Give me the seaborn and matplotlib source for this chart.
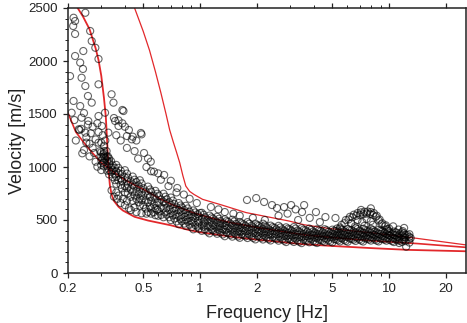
import numpy as np
import pandas as pd
import matplotlib
matplotlib.use("Agg")
import matplotlib.pyplot as plt
from matplotlib.ticker import FixedLocator, LogLocator, NullFormatter, FuncFormatter, MultipleLocator
import seaborn as sns

# ---- picked dispersion points (frequency in Hz, phase velocity in m/s) ----
grid_a = [0.30, 0.33, 0.36, 0.40, 0.44, 0.48, 0.53, 0.58, 0.64, 0.70, 0.77, 0.84, 0.92, 1.02,
          1.12, 1.23, 1.35, 1.48, 1.62, 1.78, 1.96, 2.15, 2.36, 2.60, 2.85, 3.13, 3.44, 3.78,
          4.15, 4.56, 5.01, 5.50, 6.04, 6.64, 7.29, 8.01, 8.80, 9.67, 10.6, 11.7, 12.8]
pick_1 = [1140, 1080, 1020, 970, 910, 875, 815, 775, 748, 712, 660, 634, 590, 568, 542, 530, 506,
          503, 481, 480, 466, 465, 447, 445, 431, 433, 422, 419, 412, 413, 409, 418, 415, 424, 417,
          416, 407, 405, 391, 383, 366]
pick_3 = [1095, 1030, 960, 900, 835, 795, 735, 698, 672, 640, 594, 570, 532, 512, 486, 476, 452,
          449, 431, 430, 417, 416, 400, 398, 385, 386, 375, 376, 368, 373, 369, 378, 375, 383, 377,
          379, 370, 371, 358, 353, 340]
pick_5 = [1062, 970, 910, 820, 766, 706, 664, 612, 608, 561, 535, 500, 478, 449, 437, 418, 407,
          391, 388, 374, 372, 360, 360, 346, 345, 334, 335, 328, 331, 327, 335, 332, 340, 337, 343,
          338, 339, 333, 331, 317, 319]
pick_7 = [1018, 930, 840, 760, 680, 634, 576, 545, 526, 499, 461, 444, 412, 398, 374, 370, 347,
          343, 332, 330, 317, 316, 307, 305, 292, 293, 282, 290, 283, 293, 289, 298, 295, 303, 297,
          306, 298, 305, 292, 293, 287]

grid_b = [0.31, 0.345, 0.38, 0.415, 0.46, 0.50, 0.55, 0.605, 0.665, 0.73, 0.80, 0.88, 0.97, 1.06,
          1.17, 1.28, 1.41, 1.55, 1.70, 1.87, 2.05, 2.25, 2.48, 2.72, 2.99, 3.28, 3.61, 3.96, 4.35,
          4.78, 5.25, 5.77, 6.33, 6.96, 7.64, 8.40, 9.22, 10.1, 11.1, 12.2]
pick_2 = [1100, 1015, 965, 900, 858, 800, 768, 730, 695, 650, 619, 578, 554, 525, 513, 489, 482,
          464, 459, 445, 444, 429, 426, 412, 411, 401, 402, 392, 394, 388, 396, 393, 402, 397, 400,
          390, 391, 379, 375, 357]
pick_4 = [1048, 968, 890, 834, 772, 728, 682, 663, 617, 588, 547, 523, 489, 474, 452, 441, 422,
          418, 403, 401, 388, 387, 373, 371, 359, 360, 350, 354, 347, 354, 350, 359, 356, 363, 356,
          359, 350, 351, 337, 334]
pick_6 = [1006, 905, 832, 752, 699, 641, 609, 581, 551, 514, 487, 455, 436, 411, 403, 381, 374,
          360, 359, 345, 344, 333, 332, 318, 318, 307, 310, 304, 311, 308, 316, 313, 322, 317, 323,
          316, 321, 311, 310, 301]

grid_c = [0.307, 0.338, 0.369, 0.41, 0.45, 0.49, 0.543, 0.594, 0.655, 0.717, 0.788, 0.86, 0.942,
          1.045, 1.147, 1.26, 1.38, 1.515, 1.66, 1.82, 2.01, 2.2, 2.42, 2.66, 2.92, 3.2, 3.52,
          3.87, 4.25, 4.67, 5.13, 5.63, 6.18, 6.8, 7.46, 8.2, 9.01, 9.9, 10.85, 11.98]
pick_8 = [1120, 1055, 992, 938, 880, 845, 788, 748, 720, 683, 637, 609, 571, 549, 525, 512, 490,
          486, 468, 465, 452, 449, 433, 430, 418, 419, 408, 407, 401, 403, 399, 408, 405, 414, 407,
          406, 398, 397, 384, 374]
pick_9 = [1085, 998, 942, 864, 815, 758, 716, 664, 654, 608, 580, 542, 519, 487, 476, 455, 444,
          428, 424, 410, 409, 396, 393, 379, 378, 367, 368, 359, 364, 357, 365, 362, 371, 367, 373,
          364, 367, 358, 357, 340]
pick_10 = [1040, 955, 874, 800, 731, 686, 628, 595, 572, 544, 507, 485, 452, 437, 413, 407, 384,
           381, 367, 365, 352, 351, 340, 338, 325, 326, 315, 321, 314, 323, 319, 328, 325, 333, 327,
           333, 324, 330, 317, 314]

grid_d = [0.322, 0.354, 0.386, 0.429, 0.472, 0.515, 0.568, 0.622, 0.686, 0.75, 0.825, 0.9, 0.986,
          1.093, 1.2, 1.318, 1.447, 1.587, 1.737, 1.908, 2.1, 2.305, 2.53, 2.787, 3.055, 3.355,
          3.688, 4.052, 4.449, 4.888, 5.371, 5.896, 6.475, 7.118, 7.815, 8.587, 9.434, 10.37, 11.36]
pick_11 = [1060, 990, 933, 866, 826, 768, 728, 694, 667, 619, 594, 553, 533, 504, 495, 470, 466,
           446, 445, 431, 431, 413, 412, 398, 399, 387, 389, 379, 383, 377, 387, 383, 393, 386, 389,
           380, 381, 368, 364]
pick_12 = [1012, 931, 866, 792, 746, 688, 650, 621, 596, 553, 530, 493, 474, 449, 440, 416, 411,
           395, 394, 380, 380, 366, 365, 351, 352, 340, 345, 335, 343, 337, 347, 343, 353, 346, 351,
           343, 347, 334, 333]
pick_13 = [965, 876, 799, 718, 667, 608, 574, 548, 526, 486, 466, 432, 419, 391, 388, 364, 360,
           345, 346, 331, 332, 319, 320, 305, 307, 294, 302, 292, 303, 297, 308, 303, 314, 306, 316,
           306, 315, 301, 304]

# higher-velocity arrivals between 5 and 10 Hz
bump_f = [5.3, 5.6, 5.9, 6.2, 6.5, 6.8, 7.1, 7.4, 7.7, 8.0, 8.3, 8.6, 8.9, 9.2, 9.5, 9.8,
          5.5, 5.8, 6.1, 6.4, 6.7, 7.0, 7.3, 7.6, 7.9, 8.2, 8.5, 8.8, 9.1,
          6.3, 6.8, 7.2, 7.6, 8.0, 6.6, 7.4, 8.2, 8.0, 7.1, 9.6, 10.5, 10.0, 11.2]
bump_v = [420, 455, 500, 530, 550, 565, 572, 578, 580, 575, 565, 540, 505, 470, 440, 415,
          430, 470, 505, 525, 540, 548, 555, 560, 558, 548, 530, 495, 460,
          470, 500, 480, 510, 490, 440, 445, 455, 610, 595, 450, 440, 420, 410]

# scattered picks above the fundamental mode, 1-5 Hz
mid_f = [0.96, 1.0, 1.14, 1.25, 1.35, 1.5, 1.62, 1.77, 1.98, 2.18, 2.40, 2.55, 2.78, 3.03, 3.2,
         3.46, 3.55, 3.8, 4.1, 4.3, 4.6, 5.2, 2.6, 2.9, 3.3, 1.9, 2.2]
mid_v = [660, 566, 622, 600, 575, 560, 540, 689, 707, 670, 641, 613, 622, 641, 600, 575, 641,
         520, 575, 480, 528, 519, 540, 560, 500, 520, 500]

# low-frequency scatter, 0.2-0.5 Hz
low_f = [0.247, 0.214, 0.218, 0.213, 0.218, 0.262, 0.267, 0.279, 0.241, 0.218, 0.232, 0.29,
         0.205, 0.24, 0.236, 0.247, 0.29, 0.255, 0.34, 0.214, 0.232, 0.267, 0.314, 0.348, 0.393,
         0.209, 0.236, 0.256, 0.29, 0.228, 0.247, 0.302, 0.355, 0.37, 0.41, 0.435, 0.49, 0.29,
         0.327, 0.216, 0.243, 0.23, 0.264, 0.286, 0.243, 0.275, 0.286, 0.30, 0.238, 0.22, 0.25,
         0.26, 0.27, 0.28, 0.295, 0.31, 0.32, 0.305, 0.315, 0.27, 0.255, 0.26, 0.28, 0.29, 0.30,
         0.31, 0.235, 0.25, 0.31, 0.32, 0.315, 0.325, 0.33]
low_v = [2455, 2408, 2377, 2330, 2255, 2283, 2188, 2125, 2094, 2047, 1985, 2019, 1858, 1925,
         1842, 1764, 1780, 1670, 1686, 1623, 1575, 1607, 1512, 1607, 1528, 1512, 1465, 1434, 1481,
         1356, 1324, 1387, 1434, 1387, 1292, 1261, 1308, 1229, 1324, 1443, 1509, 1349, 1318, 1412,
         1160, 1132, 1003, 971, 1129, 1250, 1280, 1220, 1180, 1260, 1150, 1200, 1100, 1300, 1250,
         1380, 1400, 1100, 1050, 1330, 1230, 1150, 1360, 1230, 1130, 1150, 1080, 1100, 1050]

# second-branch picks 0.35-1 Hz
branch_f = [0.35, 0.37, 0.388, 0.40, 0.42, 0.44, 0.46, 0.486, 0.388, 0.505, 0.53, 0.548, 0.57,
            0.60, 0.645, 0.70, 0.757, 0.82, 0.88, 0.36, 0.38, 0.45, 0.52, 0.62, 0.68, 0.75, 0.55,
            0.47, 0.41]
branch_v = [1462, 1440, 1412, 1380, 1349, 1286, 1250, 1321, 1538, 1132, 1080, 1050, 956, 940,
            925, 870, 802, 740, 700, 1300, 1250, 1150, 1000, 880, 820, 760, 960, 1080, 1180]

# picks below the main band
under_f = [0.34, 0.35, 0.365, 0.38, 0.40, 0.42, 0.43, 0.46, 0.49, 0.52, 0.36, 0.39, 0.45, 0.55,
           0.60, 0.37, 0.41, 12.0, 12.3, 11.3, 12.5, 13.0, 11.8]
under_v = [780, 720, 700, 660, 640, 610, 594, 575, 563, 560, 760, 700, 620, 560, 540, 730, 680,
           425, 248, 283, 358, 330, 395]

# ---- theoretical dispersion curves ----
curve_low_f = [0.225, 0.24, 0.26, 0.28, 0.29, 0.30, 0.31, 0.317, 0.322, 0.325, 0.328, 0.333,
               0.34, 0.35, 0.37, 0.39, 0.45, 0.53, 0.7, 0.875, 1.0, 1.5, 2.0, 3.5, 5.0, 8.0,
               12.7, 25.5]
curve_low_v = [2500, 2420, 2300, 2120, 2010, 1860, 1650, 1475, 1250, 1100, 960, 830, 740, 680,
               625, 590, 530, 495, 450, 405, 385, 340, 315, 272, 255, 235, 218, 205]
curve_mid_f = [0.2, 0.22, 0.25, 0.28, 0.3, 0.33, 0.36, 0.4, 0.45, 0.5, 0.6, 0.7, 0.8, 0.93, 1.2,
               1.5, 2.0, 3.0, 3.55, 5.0, 8.0, 12.0, 14.0, 25.5]
curve_mid_v = [1510, 1330, 1200, 1100, 1040, 985, 935, 880, 830, 790, 710, 650, 610, 565, 510,
               470, 430, 380, 360, 335, 305, 285, 278, 242]
curve_high_f = [0.45, 0.5, 0.54, 0.58, 0.62, 0.66, 0.69, 0.72, 0.75, 0.78, 0.81, 0.84, 0.88,
                0.93, 1.03, 1.31, 1.75, 2.96, 3.55, 4.8, 8.0, 14.0, 25.5]
curve_high_v = [2500, 2280, 2100, 1900, 1700, 1500, 1350, 1240, 1140, 1040, 920, 820, 770, 740,
                695, 640, 570, 490, 455, 420, 380, 327, 265]

x_ticks = [0.2, 0.5, 1, 2, 5, 10, 20]
y_ticks = [0, 500, 1000, 1500, 2000, 2500]

# ---- assemble ----
groups = [(grid_a, pick_1), (grid_a, pick_3), (grid_a, pick_5), (grid_a, pick_7),
          (grid_b, pick_2), (grid_b, pick_4), (grid_b, pick_6),
          (grid_c, pick_8), (grid_c, pick_9), (grid_c, pick_10),
          (grid_d, pick_11), (grid_d, pick_12), (grid_d, pick_13),
          (bump_f, bump_v), (mid_f, mid_v), (low_f, low_v), (branch_f, branch_v),
          (under_f, under_v)]
picks = pd.concat([pd.DataFrame({"freq": f, "vel": v}) for f, v in groups], ignore_index=True)

sns.set_style("ticks")
plt.rcParams["font.family"] = ["Liberation Sans", "DejaVu Sans"]

fig = plt.figure(figsize=(4.67, 3.23), dpi=100)
ax = fig.add_axes([68 / 467, 50 / 323, 398 / 467, 265 / 323])

red = "#e2282b"
for cf, cv, lw in [(curve_low_f, curve_low_v, 1.3), (curve_mid_f, curve_mid_v, 1.2),
                   (curve_high_f, curve_high_v, 0.9)]:
    sns.lineplot(x=cf, y=cv, sort=False, estimator=None, color=red, lw=lw, ax=ax, zorder=1)

sns.scatterplot(data=picks, x="freq", y="vel", marker="o", s=26, facecolor="none",
                edgecolor="black", linewidth=0.8, alpha=0.6, ax=ax, zorder=2)

ax.set_xscale("log")
ax.set_xlim(0.2, 25.5)
ax.set_ylim(0, 2500)

ax.xaxis.set_major_locator(FixedLocator(x_ticks))
ax.xaxis.set_major_formatter(FuncFormatter(lambda v, p: f"{v:g}"))
ax.xaxis.set_minor_locator(LogLocator(base=10, subs=np.arange(2, 10)))
ax.xaxis.set_minor_formatter(NullFormatter())
ax.yaxis.set_major_locator(FixedLocator(y_ticks))
ax.yaxis.set_minor_locator(MultipleLocator(100))

ax.tick_params(which="both", direction="out", top=True, right=False, color="#222",
               labelcolor="#222", labelsize=9.5)
ax.tick_params(which="major", length=3.6, width=0.9, pad=3.6)
ax.tick_params(which="minor", length=2.0, width=0.7)

for sp in ax.spines.values():
    sp.set_color("#222")
    sp.set_linewidth(1.1)

ax.set_xlabel("Frequency [Hz]", fontsize=13, color="#222")
ax.set_ylabel("Velocity [m/s]", fontsize=13, color="#222")
ax.yaxis.set_label_coords(-0.105, 0.5)
ax.xaxis.set_label_coords(0.5, -0.121)

fig.savefig("out.png", dpi=100)
